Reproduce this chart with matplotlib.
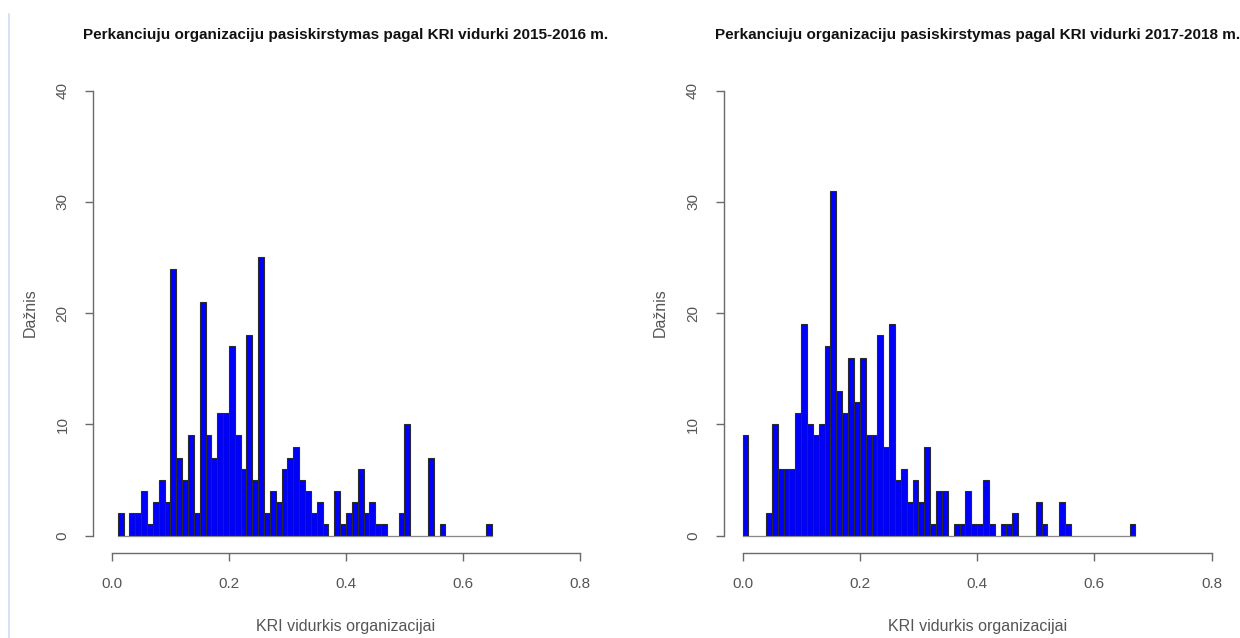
import matplotlib
matplotlib.use("Agg")
import matplotlib.pyplot as plt
from matplotlib.lines import Line2D

plt.rcParams['font.family'] = ['Liberation Sans', 'DejaVu Sans']

# ---- data (histogram bins of width 0.01) ----
bin_width = 0.01
left_start = 0.01
left_counts = [2, 0, 2, 2, 4, 1, 3, 5, 3, 24, 7, 5, 9, 2, 21, 9, 7, 11, 11, 17,
               9, 6, 18, 5, 25, 2, 4, 3, 6, 7, 8, 5, 4, 2, 3, 1, 0, 4, 1, 2,
               3, 6, 2, 3, 1, 1, 0, 0, 2, 10, 0, 0, 0, 7, 0, 1, 0, 0, 0, 0,
               0, 0, 0, 1]
right_start = 0.00
right_counts = [9, 0, 0, 0, 2, 10, 6, 6, 6, 11, 19, 10, 9, 10, 17, 31, 13, 11, 16, 12,
                16, 9, 9, 18, 8, 19, 5, 6, 3, 5, 3, 8, 1, 4, 4, 0, 1, 1, 4, 1,
                1, 5, 1, 0, 1, 1, 2, 0, 0, 0, 3, 1, 0, 0, 3, 1, 0, 0, 0, 0,
                0, 0, 0, 0, 0, 0, 1]

titles = ["Perkanciuju organizaciju pasiskirstymas pagal KRI vidurki 2015-2016 m.",
          "Perkanciuju organizaciju pasiskirstymas pagal KRI vidurki 2017-2018 m."]
xlabel = "KRI vidurkis organizacijai"
ylabel = "Dažnis"
xticks = [0.0, 0.2, 0.4, 0.6, 0.8]
xtick_labels = ["0.0", "0.2", "0.4", "0.6", "0.8"]
yticks = [0, 10, 20, 30, 40]

W, H = 1240, 638
fig = plt.figure(figsize=(W / 100, H / 100), dpi=100)
fig.patch.set_facecolor("white")

# light blue border line at the left edge (screenshot artifact)
fig.add_artist(Line2D([9 / W, 9 / W], [0, 1 - 14 / H], color="#cddcf2", lw=1.2,
                      transform=fig.transFigure))

gray = "#555555"
axis_gray = "#6a6a6a"

# pixel geometry (x of 0.0 and 0.8, baseline y and px per count)
geom = [(111.9, 580.0), (742.5, 1211.7)]
y0_px, px_per_count = 535.5, 11.125

data = [(left_start, left_counts), (right_start, right_counts)]

for i, ((x0, x8), (start, counts)) in enumerate(zip(geom, data)):
    upx = (x8 - x0) / 0.8
    xl, xr = -0.032, 0.832
    yb, yt = -1.6, 41.6
    left_px = x0 + xl * upx
    right_px = x0 + xr * upx
    bot_px = y0_px - yb * px_per_count
    top_px = y0_px - yt * px_per_count
    ax = fig.add_axes([left_px / W, 1 - bot_px / H,
                       (right_px - left_px) / W, (bot_px - top_px) / H])
    lefts = [start + j * bin_width for j in range(len(counts))]
    ax.bar(lefts, counts, width=bin_width, align="edge",
           color="#0000ff", edgecolor="#2a2a2a", linewidth=0.8)
    # baseline for empty bins, as R hist draws zero-height rectangles
    ax.plot([lefts[0], lefts[-1] + bin_width], [0, 0], color="#888888", lw=0.8, zorder=1)
    ax.set_xlim(xl, xr)
    ax.set_ylim(yb, yt)
    for s in ["top", "right"]:
        ax.spines[s].set_visible(False)
    ax.spines["left"].set_bounds(0, 40)
    ax.spines["bottom"].set_bounds(0, 0.8)
    for s in ["left", "bottom"]:
        ax.spines[s].set_color(axis_gray)
        ax.spines[s].set_linewidth(1.0)
    ax.set_xticks(xticks)
    ax.set_xticklabels(xtick_labels)
    ax.set_yticks(yticks)
    ax.set_yticklabels([str(v) for v in yticks], rotation=90, va="center")
    ax.tick_params(axis="both", direction="out", length=6, width=1.0,
                   color=axis_gray, labelcolor=gray, labelsize=11, pad=11)
    ax.set_xlabel(xlabel, fontsize=11.5, color=gray, labelpad=20)
    ax.set_ylabel(ylabel, fontsize=11.5, color=gray, labelpad=13)
    cx = (left_px + right_px) / 2
    fig.text(cx / W, 1 - 35 / H, titles[i], fontsize=11, fontweight="bold",
             color="#111111", ha="center", va="center")

fig.savefig("out.png", dpi=100, facecolor="white")
